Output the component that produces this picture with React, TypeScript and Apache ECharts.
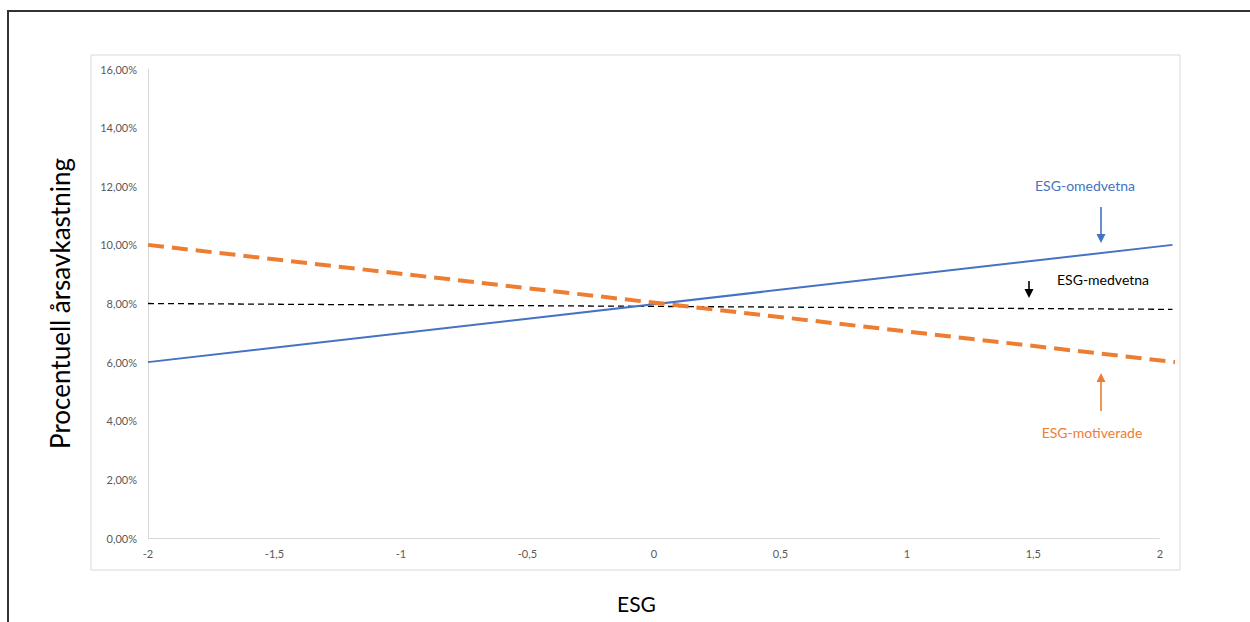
import React, { useEffect, useRef } from "react";
import * as echarts from "echarts";

const xTicks = [-2, -1.5, -1, -0.5, 0, 0.5, 1, 1.5, 2];
const omedvetnaX = [-2, 2.05];
const omedvetnaY = [6.0, 10.0];
const medvetnaX = [-2, 2.05];
const medvetnaY = [8.0, 7.8];
const motiveradeX = [-2, 2.06];
const motiveradeY = [10.0, 6.0];
const seriesNames = ["ESG-omedvetna", "ESG-medvetna", "ESG-motiverade"];

const FONT = "Lato, 'Open Sans', sans-serif";

export default function App() {
  const ref = useRef<HTMLDivElement>(null);
  useEffect(() => {
    document.body.style.margin = "0";
    const chart = echarts.init(ref.current!, null, { renderer: "svg" });
    const fmtPct = (v: number) => v.toFixed(2).replace(".", ",") + "%";
    const fmtX = (v: number) =>
      xTicks.some((t) => Math.abs(t - v) < 1e-9) ? String(v).replace(".", ",") : "";
    const zip = (xs: number[], ys: number[]) => xs.map((x, i) => [x, ys[i]]);
    const arrow = (x: number, y1: number, y2: number, color: string) => {
      const dir = y2 > y1 ? 1 : -1;
      return [
        { type: "line", shape: { x1: x, y1, x2: x, y2: y2 - dir * 7 }, style: { stroke: color, lineWidth: 1.6 } },
        { type: "polygon", shape: { points: [[x - 4.5, y2 - dir * 9], [x + 4.5, y2 - dir * 9], [x, y2]] }, style: { fill: color } },
      ];
    };
    chart.setOption({
      animation: false,
      textStyle: { fontFamily: FONT },
      grid: { left: 148, right: 75, top: 69, bottom: 84 },
      xAxis: {
        type: "value",
        min: -2,
        max: 2.06,
        interval: 0.5,
        name: "ESG",
        nameLocation: "middle",
        nameGap: 55,
        nameTextStyle: { fontSize: 21, color: "#000", fontFamily: FONT, padding: [0, 50, 0, 0] },
        axisLine: { show: false },
        axisTick: { show: false },
        splitLine: { show: false },
        axisLabel: { formatter: fmtX, fontSize: 11, color: "#595959", margin: 10, fontFamily: FONT, showMaxLabel: false },
      },
      yAxis: {
        type: "value",
        min: 0,
        max: 16,
        interval: 2,
        name: "Procentuell årsavkastning",
        nameLocation: "middle",
        nameGap: 75,
        nameTextStyle: { fontSize: 26, color: "#000", fontFamily: FONT },
        axisLine: { show: true, onZero: false, lineStyle: { color: "#d9d9d9", width: 1 } },
        axisTick: { show: false },
        splitLine: { show: false },
        axisLabel: { formatter: fmtPct, fontSize: 11, color: "#595959", margin: 11, fontFamily: FONT },
      },
      series: [
        {
          name: seriesNames[0],
          type: "line",
          data: zip(omedvetnaX, omedvetnaY),
          symbol: "none",
          lineStyle: { color: "#4472C4", width: 2 },
          z: 3,
          markLine: {
            silent: true,
            symbol: "none",
            label: { show: false },
            lineStyle: { color: "#d9d9d9", width: 1, type: "solid" },
            data: [[{ coord: [xTicks[0], 0] }, { coord: [xTicks[xTicks.length - 1], 0] }]],
          },
        },
        {
          name: seriesNames[1],
          type: "line",
          data: zip(medvetnaX, medvetnaY),
          symbol: "none",
          lineStyle: { color: "#000", width: 1.3, type: [6, 4] },
          z: 2,
        },
        {
          name: seriesNames[2],
          type: "line",
          data: zip(motiveradeX, motiveradeY),
          symbol: "none",
          lineStyle: { color: "#ED7D31", width: 4, type: [16, 8] },
          z: 4,
        },
      ],
      graphic: [
        { type: "line", shape: { x1: 7, y1: 11, x2: 1250, y2: 11 }, style: { stroke: "#333", lineWidth: 2 } },
        { type: "line", shape: { x1: 8, y1: 11, x2: 8, y2: 622 }, style: { stroke: "#333", lineWidth: 2 } },
        { type: "rect", shape: { x: 91, y: 55, width: 1089, height: 515 }, style: { fill: "none", stroke: "#d9d9d9", lineWidth: 1 }, z: -1 },
        { type: "text", x: 1085, y: 185, style: { text: seriesNames[0], fill: "#4472C4", fontSize: 14, fontFamily: FONT, align: "center", verticalAlign: "middle" } },
        ...arrow(1101, 207, 243, "#4472C4"),
        { type: "text", x: 1103, y: 279, style: { text: seriesNames[1], fill: "#000", fontSize: 14, fontFamily: FONT, align: "center", verticalAlign: "middle" } },
        ...arrow(1029, 281, 298, "#000"),
        { type: "text", x: 1092, y: 432, style: { text: seriesNames[2], fill: "#ED7D31", fontSize: 14, fontFamily: FONT, align: "center", verticalAlign: "middle" } },
        ...arrow(1101, 411, 373, "#ED7D31"),
      ],
    });
    return () => chart.dispose();
  }, []);
  return <div ref={ref} style={{ width: 1250, height: 622 }} />;
}
